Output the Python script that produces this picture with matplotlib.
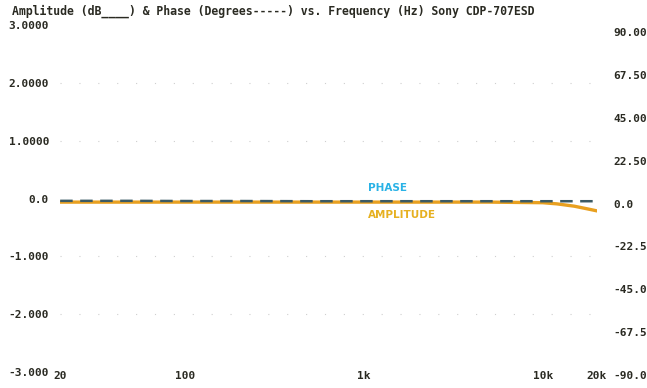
import numpy as np
import matplotlib.pyplot as plt

freq = [20, 30, 50, 100, 200, 500, 1000, 2000, 5000, 10000, 12000, 15000, 18000, 20000]
amplitude = [-0.06, -0.06, -0.06, -0.06, -0.06, -0.06, -0.06, -0.06, -0.06, -0.07, -0.09, -0.13, -0.18, -0.21]
phase = [1.4, 1.4, 1.4, 1.3, 1.3, 1.2, 1.2, 1.2, 1.2, 1.2, 1.2, 1.2, 1.2, 1.2]

left_ticks = [3, 2, 1, 0, -1, -2, -3]
left_labels = ["3.0000", "2.0000", "1.0000", "0.0", "-1.000", "-2.000", "-3.000"]
right_ticks = [90, 67.5, 45, 22.5, 0, -22.5, -45, -67.5, -90]
right_labels = ["90.00", "67.50", "45.00", "22.50", "0.0", "-22.5", "-45.0", "-67.5", "-90.0"]
x_ticks = [20, 100, 1000, 10000, 20000]
x_labels = ["20", "100", "1k", "10k", "20k"]

mono = "DejaVu Sans Mono"
txtcol = "#2a2a22"
fs = 8

fig = plt.figure(figsize=(6.47, 3.88), dpi=100)
ax = fig.add_axes([0.093, 0.041, 0.829, 0.894])
# phase scale sits slightly lower on the original plotter output
ax2 = fig.add_axes([0.093, 0.0335, 0.829, 0.884])
ax2.patch.set_visible(False)

for a in (ax, ax2):
    a.set_xscale("log")
    a.set_xlim(20, 20000)
ax.set_ylim(-3, 3)
ax2.set_ylim(-90, 90)

# faint dotted grid, like the plotter's dot marks
for y in [2, 1, -1, -2]:
    ax.axhline(y, color="#cfcfcf", lw=0.8, ls=(0, (1, 16)), zorder=0)

ax.plot(freq, amplitude, color="#e8a020", lw=2.4, zorder=3)
ax2.plot(freq, phase, color="#3b5a64", lw=1.8, ls=(0, (5, 3)), zorder=4)

ax.text(1050, 0.19, "PHASE", color="#29b2e6", fontsize=7.5, fontweight="bold",
        family="DejaVu Sans", va="center")
ax.text(1050, -0.29, "AMPLITUDE", color="#e6b020", fontsize=7.5, fontweight="bold",
        family="DejaVu Sans", va="center")

ax.set_yticks(left_ticks)
ax.set_yticklabels(left_labels, family=mono, fontweight="bold", fontsize=fs, color=txtcol)
ax.tick_params(axis="y", length=0, pad=8)
ax.set_xticks(x_ticks)
ax.set_xticklabels(x_labels, family=mono, fontweight="bold", fontsize=fs, color=txtcol)
ax.minorticks_off()
ax.tick_params(axis="x", length=0, pad=-1)

ax2.set_xticks([])
ax2.minorticks_off()
ax2.yaxis.tick_right()
ax2.set_yticks(right_ticks)
ax2.set_yticklabels(right_labels, family=mono, fontweight="bold", fontsize=fs, color=txtcol)
ax2.tick_params(axis="y", length=0, pad=12)

for a in (ax, ax2):
    for s in a.spines.values():
        s.set_visible(False)

fig.text(0.018, 0.972, "Amplitude (dB____) & Phase (Degrees-----) vs. Frequency (Hz) Sony CDP-707ESD",
         family=mono, fontweight="bold", fontsize=8.3, color=txtcol, va="center")

fig.savefig("out.png", dpi=100)
